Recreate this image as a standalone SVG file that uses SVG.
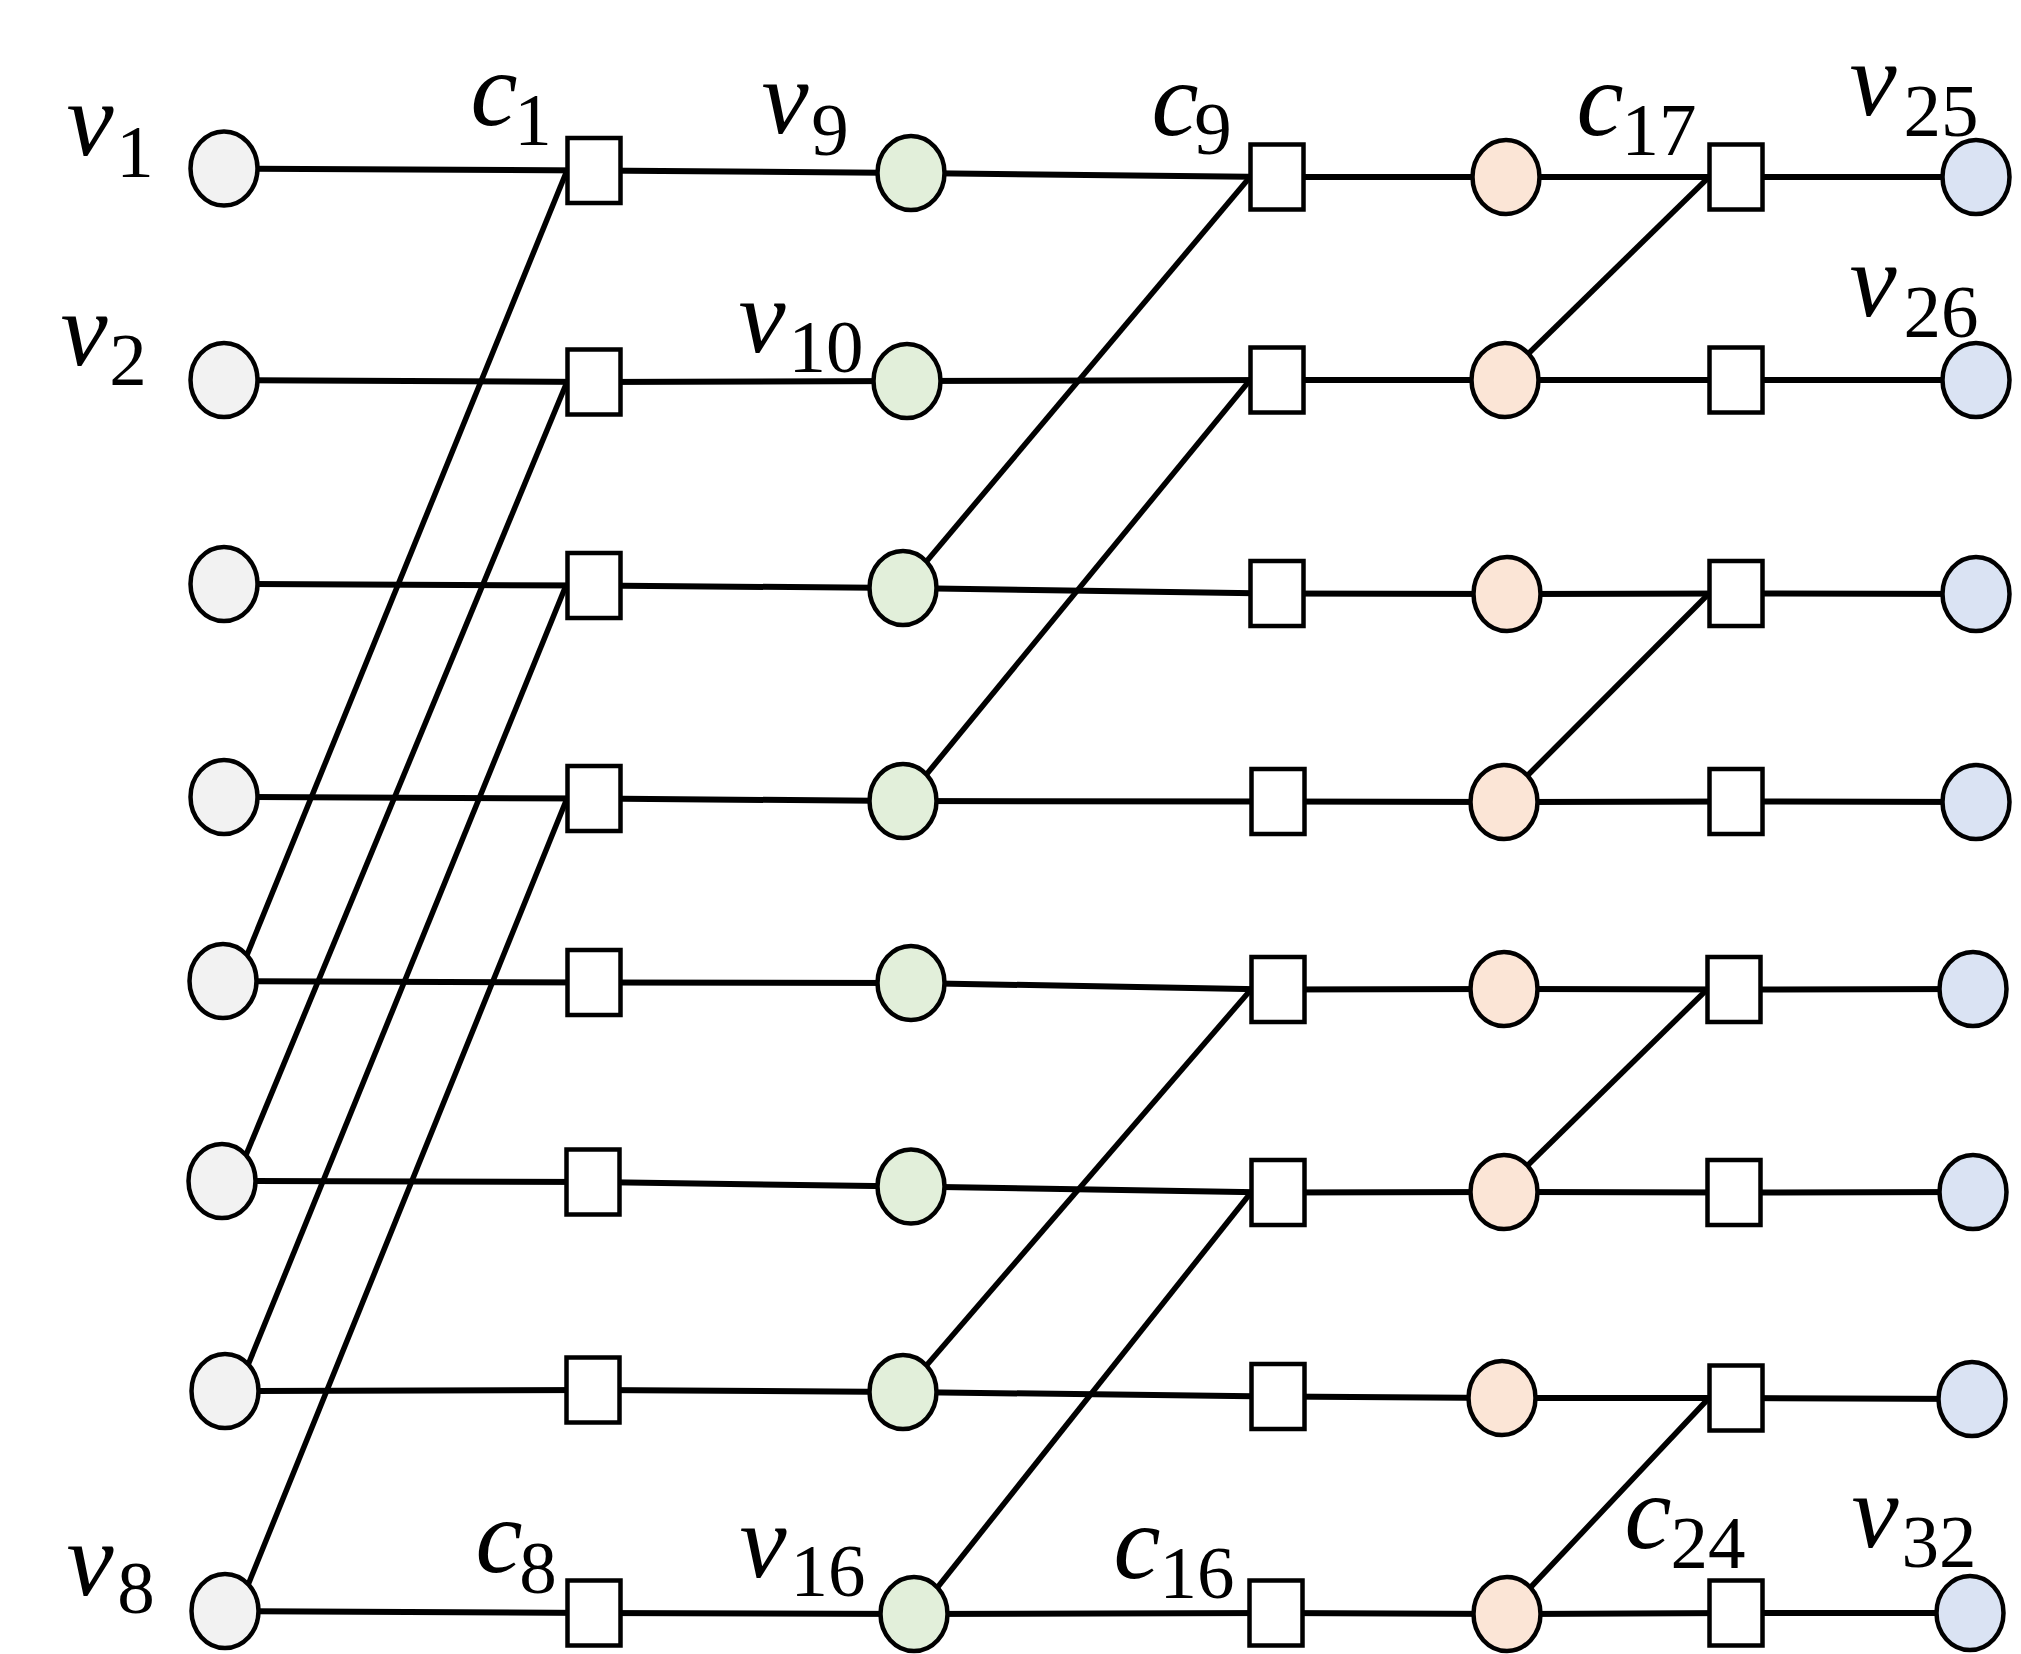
<svg xmlns="http://www.w3.org/2000/svg" width="2021" height="1654" viewBox="0 0 2021 1654">
<defs>
<style>
.e{stroke:#000;stroke-width:6;fill:none}
.d{stroke:#000;stroke-width:5.5;fill:none}
.n{stroke:#000;stroke-width:4.5}
.gr{fill:#F2F2F2}
.gn{fill:#E2EFDA}
.or{fill:#FBE5D6}
.bl{fill:#DAE3F3}
.sq{fill:#FFFFFF}
.lbl{font-family:"Liberation Serif","Times New Roman",serif;font-size:106px;font-style:italic;text-anchor:middle;fill:#000}
.sub{font-size:75px;font-style:normal}
</style>
</defs>
<rect width="2021" height="1654" fill="#FFFFFF"/>
<g id="connectors">
<!-- row 1 -->
<line class="e" x1="224" y1="168.5" x2="594" y2="170.5"/>
<line class="e" x1="594" y1="170.5" x2="911" y2="173"/>
<line class="e" x1="911" y1="173" x2="1277" y2="177"/>
<line class="e" x1="1277" y1="177" x2="1506" y2="177"/>
<line class="e" x1="1506" y1="177" x2="1736" y2="177"/>
<line class="e" x1="1736" y1="177" x2="1976" y2="177"/>
<!-- row 2 -->
<line class="e" x1="224" y1="380" x2="594" y2="382"/>
<line class="e" x1="594" y1="382" x2="907" y2="381"/>
<line class="e" x1="907" y1="381" x2="1277" y2="380"/>
<line class="e" x1="1277" y1="380" x2="1505" y2="380"/>
<line class="e" x1="1505" y1="380" x2="1736" y2="380"/>
<line class="e" x1="1736" y1="380" x2="1976" y2="380"/>
<!-- row 3 -->
<line class="e" x1="224" y1="584" x2="594" y2="585.5"/>
<line class="e" x1="594" y1="585.5" x2="903" y2="588"/>
<line class="e" x1="903" y1="588" x2="1277" y2="593.5"/>
<line class="e" x1="1277" y1="593.5" x2="1507" y2="594"/>
<line class="e" x1="1507" y1="594" x2="1736" y2="593.5"/>
<line class="e" x1="1736" y1="593.5" x2="1976" y2="594"/>
<!-- row 4 -->
<line class="e" x1="224" y1="797" x2="594" y2="798.5"/>
<line class="e" x1="594" y1="798.5" x2="903" y2="801"/>
<line class="e" x1="903" y1="801" x2="1278" y2="801.5"/>
<line class="e" x1="1278" y1="801.5" x2="1504" y2="802"/>
<line class="e" x1="1504" y1="802" x2="1736" y2="801.5"/>
<line class="e" x1="1736" y1="801.5" x2="1976" y2="802"/>
<!-- row 5 -->
<line class="e" x1="223" y1="981" x2="594" y2="982.5"/>
<line class="e" x1="594" y1="982.5" x2="911" y2="983"/>
<line class="e" x1="911" y1="983" x2="1278" y2="989.5"/>
<line class="e" x1="1278" y1="989.5" x2="1504" y2="989"/>
<line class="e" x1="1504" y1="989" x2="1734" y2="989.5"/>
<line class="e" x1="1734" y1="989.5" x2="1973" y2="989"/>
<!-- row 6 -->
<line class="e" x1="222" y1="1181" x2="593" y2="1182"/>
<line class="e" x1="593" y1="1182" x2="911" y2="1186.5"/>
<line class="e" x1="911" y1="1186.5" x2="1278" y2="1192.5"/>
<line class="e" x1="1278" y1="1192.5" x2="1504" y2="1192"/>
<line class="e" x1="1504" y1="1192" x2="1734" y2="1192.5"/>
<line class="e" x1="1734" y1="1192.5" x2="1973" y2="1192"/>
<!-- row 7 -->
<line class="e" x1="225" y1="1391" x2="593" y2="1390"/>
<line class="e" x1="593" y1="1390" x2="903" y2="1392"/>
<line class="e" x1="903" y1="1392" x2="1278" y2="1396.5"/>
<line class="e" x1="1278" y1="1396.5" x2="1502" y2="1398"/>
<line class="e" x1="1502" y1="1398" x2="1736" y2="1398"/>
<line class="e" x1="1736" y1="1398" x2="1972" y2="1399"/>
<!-- row 8 -->
<line class="e" x1="225" y1="1611" x2="594" y2="1613"/>
<line class="e" x1="594" y1="1613" x2="914" y2="1614"/>
<line class="e" x1="914" y1="1614" x2="1276" y2="1613"/>
<line class="e" x1="1276" y1="1613" x2="1507" y2="1614"/>
<line class="e" x1="1507" y1="1614" x2="1736" y2="1613"/>
<line class="e" x1="1736" y1="1613" x2="1970" y2="1613"/>
<!-- diagonals: first layer -->
<line class="d" x1="247" y1="955" x2="567" y2="170.5"/>
<line class="d" x1="246" y1="1155" x2="567" y2="382"/>
<line class="d" x1="248" y1="1365" x2="566" y2="585.5"/>
<line class="d" x1="248" y1="1585" x2="567" y2="798.5"/>
<!-- diagonals: second layer -->
<line class="d" x1="926" y1="562" x2="1250" y2="177"/>
<line class="d" x1="926" y1="775" x2="1250" y2="380"/>
<line class="d" x1="926" y1="1366" x2="1251" y2="989.5"/>
<line class="d" x1="937" y1="1588" x2="1251" y2="1192.5"/>
<!-- diagonals: third layer -->
<line class="d" x1="1528" y1="354" x2="1709" y2="177"/>
<line class="d" x1="1527" y1="776" x2="1709" y2="593.5"/>
<line class="d" x1="1527" y1="1166" x2="1707" y2="989.5"/>
<line class="d" x1="1530" y1="1588" x2="1709" y2="1398"/>
</g>
<!-- column 1: v1..v8 -->
<g id="v1"><ellipse class="n gr" cx="224" cy="168.5" rx="33.5" ry="37"/><text class="lbl"><tspan x="90" y="155">v</tspan><tspan class="sub" x="135" y="177">1</tspan></text></g>
<g id="v2"><ellipse class="n gr" cx="224" cy="380" rx="33.5" ry="37"/><text class="lbl"><tspan x="84" y="365">v</tspan><tspan class="sub" x="128" y="385">2</tspan></text></g>
<g id="v3"><ellipse class="n gr" cx="224" cy="584" rx="33.5" ry="37"/></g>
<g id="v4"><ellipse class="n gr" cx="224" cy="797" rx="33.5" ry="37"/></g>
<g id="v5"><ellipse class="n gr" cx="223" cy="981" rx="33.5" ry="37"/></g>
<g id="v6"><ellipse class="n gr" cx="222" cy="1181" rx="33.5" ry="37"/></g>
<g id="v7"><ellipse class="n gr" cx="225" cy="1391" rx="33.5" ry="37"/></g>
<g id="v8"><ellipse class="n gr" cx="225" cy="1611" rx="33.5" ry="37"/><text class="lbl"><tspan x="90" y="1595">v</tspan><tspan class="sub" x="136" y="1613">8</tspan></text></g>
<!-- column 2: c1..c8 -->
<g id="c1"><rect class="n sq" x="567.5" y="138" width="53" height="65"/><text class="lbl"><tspan x="494" y="125">c</tspan><tspan class="sub" x="533" y="145">1</tspan></text></g>
<g id="c2"><rect class="n sq" x="567.5" y="349.5" width="53" height="65"/></g>
<g id="c3"><rect class="n sq" x="567.5" y="553" width="53" height="65"/></g>
<g id="c4"><rect class="n sq" x="567.5" y="766" width="53" height="65"/></g>
<g id="c5"><rect class="n sq" x="567.5" y="950" width="53" height="65"/></g>
<g id="c6"><rect class="n sq" x="566.5" y="1149.5" width="53" height="65"/></g>
<g id="c7"><rect class="n sq" x="566.5" y="1357.5" width="53" height="65"/></g>
<g id="c8"><rect class="n sq" x="567.5" y="1580.5" width="53" height="65"/><text class="lbl"><tspan x="499" y="1572">c</tspan><tspan class="sub" x="538" y="1593">8</tspan></text></g>
<!-- column 3: v9..v16 -->
<g id="v9"><ellipse class="n gn" cx="911" cy="173" rx="33.5" ry="37"/><text class="lbl"><tspan x="785" y="133">v</tspan><tspan class="sub" x="830" y="155">9</tspan></text></g>
<g id="v10"><ellipse class="n gn" cx="907" cy="381" rx="33.5" ry="37"/><text class="lbl"><tspan x="762" y="352">v</tspan><tspan class="sub" x="826" y="372">10</tspan></text></g>
<g id="v11"><ellipse class="n gn" cx="903" cy="588" rx="33.5" ry="37"/></g>
<g id="v12"><ellipse class="n gn" cx="903" cy="801" rx="33.5" ry="37"/></g>
<g id="v13"><ellipse class="n gn" cx="911" cy="983" rx="33.5" ry="37"/></g>
<g id="v14"><ellipse class="n gn" cx="911" cy="1186.5" rx="33.5" ry="37"/></g>
<g id="v15"><ellipse class="n gn" cx="903" cy="1392" rx="33.5" ry="37"/></g>
<g id="v16"><ellipse class="n gn" cx="914" cy="1614" rx="33.5" ry="37"/><text class="lbl"><tspan x="763" y="1577">v</tspan><tspan class="sub" x="828" y="1596">16</tspan></text></g>
<!-- column 4: c9..c16 -->
<g id="c9"><rect class="n sq" x="1250.5" y="144.5" width="53" height="65"/><text class="lbl"><tspan x="1175" y="135">c</tspan><tspan class="sub" x="1213" y="154">9</tspan></text></g>
<g id="c10"><rect class="n sq" x="1250.5" y="347.5" width="53" height="65"/></g>
<g id="c11"><rect class="n sq" x="1250.5" y="561" width="53" height="65"/></g>
<g id="c12"><rect class="n sq" x="1251.5" y="769" width="53" height="65"/></g>
<g id="c13"><rect class="n sq" x="1251.5" y="957" width="53" height="65"/></g>
<g id="c14"><rect class="n sq" x="1251.5" y="1160" width="53" height="65"/></g>
<g id="c15"><rect class="n sq" x="1251.5" y="1364" width="53" height="65"/></g>
<g id="c16"><rect class="n sq" x="1249.5" y="1580.5" width="53" height="65"/><text class="lbl"><tspan x="1137" y="1578">c</tspan><tspan class="sub" x="1197" y="1598">16</tspan></text></g>
<!-- column 5: v17..v24 -->
<g id="v17"><ellipse class="n or" cx="1506" cy="177" rx="33.5" ry="37"/></g>
<g id="v18"><ellipse class="n or" cx="1505" cy="380" rx="33.5" ry="37"/></g>
<g id="v19"><ellipse class="n or" cx="1507" cy="594" rx="33.5" ry="37"/></g>
<g id="v20"><ellipse class="n or" cx="1504" cy="802" rx="33.5" ry="37"/></g>
<g id="v21"><ellipse class="n or" cx="1504" cy="989" rx="33.5" ry="37"/></g>
<g id="v22"><ellipse class="n or" cx="1504" cy="1192" rx="33.5" ry="37"/></g>
<g id="v23"><ellipse class="n or" cx="1502" cy="1398" rx="33.5" ry="37"/></g>
<g id="v24"><ellipse class="n or" cx="1507" cy="1614" rx="33.5" ry="37"/></g>
<!-- column 6: c17..c24 -->
<g id="c17"><rect class="n sq" x="1709.5" y="144.5" width="53" height="65"/><text class="lbl"><tspan x="1600" y="135">c</tspan><tspan class="sub" x="1659" y="155">17</tspan></text></g>
<g id="c18"><rect class="n sq" x="1709.5" y="347.5" width="53" height="65"/></g>
<g id="c19"><rect class="n sq" x="1709.5" y="561" width="53" height="65"/></g>
<g id="c20"><rect class="n sq" x="1709.5" y="769" width="53" height="65"/></g>
<g id="c21"><rect class="n sq" x="1707.5" y="957" width="53" height="65"/></g>
<g id="c22"><rect class="n sq" x="1707.5" y="1160" width="53" height="65"/></g>
<g id="c23"><rect class="n sq" x="1709.5" y="1365.5" width="53" height="65"/></g>
<g id="c24"><rect class="n sq" x="1709.5" y="1580.5" width="53" height="65"/><text class="lbl"><tspan x="1648" y="1548">c</tspan><tspan class="sub" x="1708" y="1568">24</tspan></text></g>
<!-- column 7: v25..v32 -->
<g id="v25"><ellipse class="n bl" cx="1976" cy="177" rx="33.5" ry="37"/><text class="lbl"><tspan x="1873" y="115">v</tspan><tspan class="sub" x="1941" y="136">25</tspan></text></g>
<g id="v26"><ellipse class="n bl" cx="1976" cy="380" rx="33.5" ry="37"/><text class="lbl"><tspan x="1873" y="316">v</tspan><tspan class="sub" x="1941" y="337">26</tspan></text></g>
<g id="v27"><ellipse class="n bl" cx="1976" cy="594" rx="33.5" ry="37"/></g>
<g id="v28"><ellipse class="n bl" cx="1976" cy="802" rx="33.5" ry="37"/></g>
<g id="v29"><ellipse class="n bl" cx="1973" cy="989" rx="33.5" ry="37"/></g>
<g id="v30"><ellipse class="n bl" cx="1973" cy="1192" rx="33.5" ry="37"/></g>
<g id="v31"><ellipse class="n bl" cx="1972" cy="1399" rx="33.5" ry="37"/></g>
<g id="v32"><ellipse class="n bl" cx="1970" cy="1613" rx="33.5" ry="37"/><text class="lbl"><tspan x="1875" y="1547">v</tspan><tspan class="sub" x="1939" y="1567">32</tspan></text></g>
</svg>
